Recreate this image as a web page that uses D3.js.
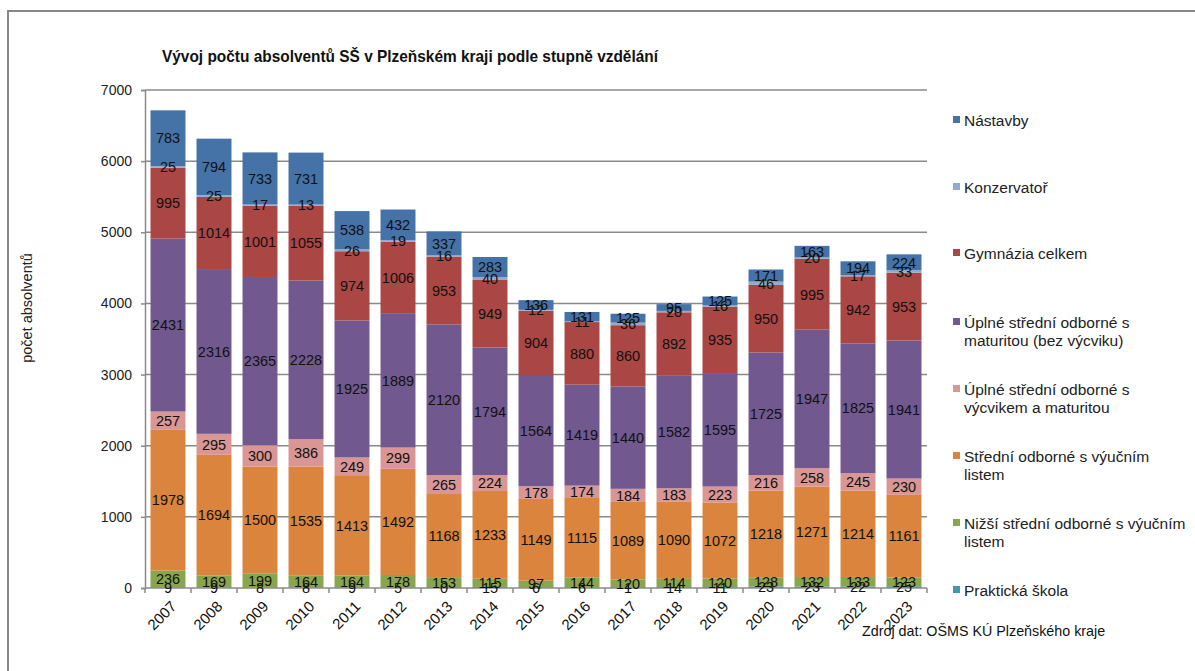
<!DOCTYPE html>
<html><head><meta charset="utf-8">
<script src="https://cdn.jsdelivr.net/npm/d3@7"></script>
<style>body{margin:0;background:#fff;}svg{display:block;font-family:"Liberation Sans",Arial,sans-serif;}</style>
</head><body>
<svg id="c" width="1195" height="671"></svg>
<script>
const years = ["2007","2008","2009","2010","2011","2012","2013","2014","2015","2016","2017","2018","2019","2020","2021","2022","2023"];
const seriesNames = ["Praktická škola","Nižší střední odborné s výučním listem","Střední odborné s výučním listem","Úplné střední odborné s výcvikem a maturitou","Úplné střední odborné s maturitou (bez výcviku)","Gymnázia celkem","Konzervatoř","Nástavby"];
const praktickaSkola = [9,9,8,8,9,5,0,15,6,6,1,14,11,23,23,22,25];
const nizsiStredni   = [236,169,199,164,164,178,153,115,97,144,120,114,120,128,132,133,123];
const stredniVyucni  = [1978,1694,1500,1535,1413,1492,1168,1233,1149,1115,1089,1090,1072,1218,1271,1214,1161];
const uplneVycvik    = [257,295,300,386,249,299,265,224,178,174,184,183,223,216,258,245,230];
const uplneMaturita  = [2431,2316,2365,2228,1925,1889,2120,1794,1564,1419,1440,1582,1595,1725,1947,1825,1941];
const gymnazia       = [995,1014,1001,1055,974,1006,953,949,904,880,860,892,935,950,995,942,953];
const konzervator    = [25,25,17,13,26,19,16,40,12,11,36,20,16,46,20,17,33];
const nastavby       = [783,794,733,731,538,432,337,283,136,131,125,95,125,171,163,194,224];
const yTicks = [0,1000,2000,3000,4000,5000,6000,7000];
const colors = ["#4198AF","#89A54E","#DB843D","#D99694","#71588F","#AA4643","#93A9CF","#4572A7"];
const legendLines = [
  ["Nástavby"],["Konzervatoř"],["Gymnázia celkem"],
  ["Úplné střední odborné s","maturitou (bez výcviku)"],
  ["Úplné střední odborné s","výcvikem a maturitou"],
  ["Střední odborné s výučním","listem"],
  ["Nižší střední odborné s výučním","listem"],
  ["Praktická škola"]
];
const legendColors = ["#4572A7","#93A9CF","#AA4643","#71588F","#D99694","#DB843D","#89A54E","#4198AF"];

const allSeries = [praktickaSkola,nizsiStredni,stredniVyucni,uplneVycvik,uplneMaturita,gymnazia,konzervator,nastavby];
const table = years.map((y,i)=>{const o={year:y}; seriesNames.forEach((n,k)=>o[n]=allSeries[k][i]); return o;});
const stack = d3.stack().keys(seriesNames)(table);

const svg = d3.select("#c");
// frame
svg.append("path").attr("d","M8,671 L8,11 L1195,11").attr("fill","none").attr("stroke","#888").attr("stroke-width",2);

const x = d3.scaleBand().domain(years).range([145,927]).paddingInner(0.24).paddingOuter(0.12);
const y = d3.scaleLinear().domain([0,7000]).range([588,90]);

// grid
svg.append("g").selectAll("line").data(yTicks.filter(d=>d>0)).join("line")
  .attr("x1",145).attr("x2",927).attr("y1",d=>y(d)).attr("y2",d=>y(d))
  .attr("stroke","#8a8a8a").attr("stroke-width",1.5);

// bars
const g = svg.append("g");
stack.forEach((s,k)=>{
  g.append("g").attr("fill",colors[k]).selectAll("rect").data(s).join("rect")
   .attr("x",d=>x(d.data.year)).attr("width",x.bandwidth())
   .attr("y",d=>y(d[1])).attr("height",d=>y(d[0])-y(d[1]));
});

// y axis
const ya = svg.append("g").attr("transform","translate(145,0)")
  .call(d3.axisLeft(y).tickValues(yTicks).tickSize(4).tickPadding(9).tickFormat(d3.format("d")));
ya.select(".domain").attr("stroke","#8a8a8a").attr("stroke-width",1.5);
ya.selectAll(".tick line").attr("stroke","#8a8a8a").attr("stroke-width",1.5);
ya.selectAll("text").attr("font-size",14).attr("fill","#222").attr("font-family","Liberation Sans, Arial, sans-serif");

// x axis
svg.append("line").attr("x1",145).attr("x2",927).attr("y1",588).attr("y2",588).attr("stroke","#8a8a8a").attr("stroke-width",1.5);
const step = x.step();
const bounds = years.map(yr=>x(yr)+x.bandwidth()/2+step/2);
bounds.unshift(x(years[0])+x.bandwidth()/2-step/2);
svg.append("g").selectAll("line").data(bounds).join("line")
  .attr("x1",d=>d).attr("x2",d=>d).attr("y1",588).attr("y2",593).attr("stroke","#8a8a8a").attr("stroke-width",1.5);
svg.append("g").selectAll("text").data(years).join("text")
  .attr("transform",d=>`translate(${x(d)+x.bandwidth()/2+2},${600}) rotate(-45)`)
  .attr("text-anchor","end").attr("dy","0.7em").attr("font-size",15).attr("fill","#111").text(d=>d);

// data labels
stack.forEach((s,k)=>{
  svg.append("g").selectAll("text").data(s).join("text")
    .attr("x",d=>x(d.data.year)+x.bandwidth()/2)
    .attr("y",d=>(y(d[0])+y(d[1]))/2)
    .attr("dy","0.36em").attr("text-anchor","middle").attr("font-size",14.5).attr("fill","#111")
    .text(d=>d[1]-d[0]);
});

// title
svg.append("text").attr("x",162).attr("y",62).attr("font-size",17).attr("font-weight","bold").attr("fill","#111")
  .attr("textLength",496).attr("lengthAdjust","spacingAndGlyphs")
  .text("Vývoj počtu absolventů SŠ v Plzeňském kraji podle stupně vzdělání");

// y label
svg.append("text").attr("transform","translate(32,308) rotate(-90)").attr("text-anchor","middle")
  .attr("font-size",14.5).attr("fill","#222").text("počet absolventů");

// legend
const legY = [120,187,253,322,389,456,523,590];
const lg = svg.append("g");
legendLines.forEach((lines,i)=>{
  lg.append("rect").attr("x",953).attr("y",legY[i]-4).attr("width",7).attr("height",7).attr("fill",legendColors[i]);
  const t = lg.append("text").attr("x",964).attr("y",legY[i]).attr("font-size",15.5).attr("fill","#222");
  lines.forEach((l,j)=>t.append("tspan").attr("x",964).attr("dy",j===0?"0.36em":"18.5").text(l));
});

// source
svg.append("text").attr("x",862).attr("y",636).attr("font-size",14.3).attr("fill","#111")
  .text("Zdroj dat: OŠMS KÚ Plzeňského kraje");
</script>
</body></html>
